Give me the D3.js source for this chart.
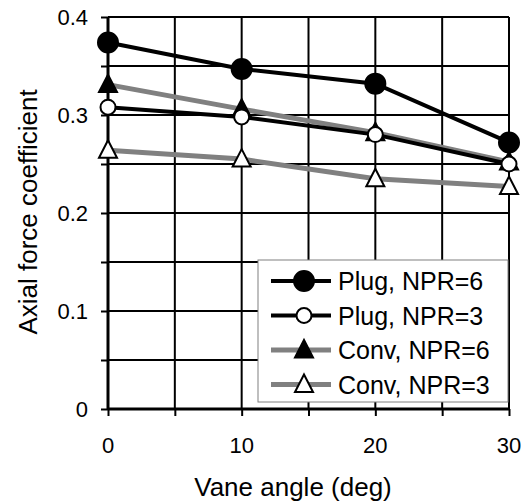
<!DOCTYPE html>
<html>
<head>
<meta charset="utf-8">
<script src="https://d3js.org/d3.v7.min.js"></script>
<style>
  body { margin: 0; background: #fff; }
  text { font-family: "Liberation Sans", Arial, sans-serif; fill: #000; }
</style>
</head>
<body>
<div id="svg"></div>
<script>
// data
var angles = [0, 10, 20, 30];
var plugNpr6 = [0.374, 0.347, 0.332, 0.272];
var plugNpr3 = [0.308, 0.298, 0.280, 0.250];
var convNpr6 = [0.331, 0.306, 0.282, 0.252];
var convNpr3 = [0.264, 0.255, 0.235, 0.227];
var seriesNames = ["Plug, NPR=6", "Plug, NPR=3", "Conv, NPR=6", "Conv, NPR=3"];
var xTicks = [0, 10, 20, 30];
var yTicks = [0, 0.1, 0.2, 0.3, 0.4];

var series = [
  { name: seriesNames[0], values: plugNpr6, line: "#000", lw: 4, shape: "circle", fill: "#000", r: 10 },
  { name: seriesNames[1], values: plugNpr3, line: "#000", lw: 4, shape: "circle", fill: "#fff", r: 7.5 },
  { name: seriesNames[2], values: convNpr6, line: "#808080", lw: 5, shape: "triangle", fill: "#000", r: 10 },
  { name: seriesNames[3], values: convNpr3, line: "#808080", lw: 5, shape: "triangle", fill: "#fff", r: 10 }
];

var tickFs = "22px", labelFs = "26px", legendFs = "25px";

var edge = { top: 17, right: 22, bottom: 93, left: 108 },
    width = 531 - edge.left - edge.right,
    height = 502 - edge.top - edge.bottom;

var svg = d3.select("#svg").append("svg")
    .attr("width", 531).attr("height", 502)
  .append("g")
    .attr("transform", "translate(" + edge.left + "," + edge.top + ")");

var x = d3.scaleLinear().domain([0, 30]).range([0, width]);
var y = d3.scaleLinear().domain([0, 0.4]).range([height, 0]);

// grid every 5 deg and every 0.05
svg.append("g").selectAll("line").data(d3.range(5, 31, 5))
  .enter().append("line")
  .attr("x1", d => x(d)).attr("x2", d => x(d))
  .attr("y1", 0).attr("y2", height)
  .attr("stroke", "#000").attr("stroke-width", 2);
svg.append("g").selectAll("line").data(d3.range(1, 9).map(d => d * 0.05))
  .enter().append("line")
  .attr("x1", 0).attr("x2", width)
  .attr("y1", d => y(d)).attr("y2", d => y(d))
  .attr("stroke", "#000").attr("stroke-width", 2);

// axes
var xAxis = svg.append("g")
  .attr("transform", "translate(0," + height + ")")
  .call(d3.axisBottom(x).tickValues(d3.range(0, 31, 5)).tickSize(7).tickFormat(""));
var yAxis = svg.append("g")
  .call(d3.axisLeft(y).tickValues(d3.range(0, 9).map(d => d * 0.05)).tickSize(7).tickFormat(""));
[xAxis, yAxis].forEach(function(a) {
  a.select(".domain").attr("stroke", "#000").attr("stroke-width", 3);
  a.selectAll(".tick line").attr("stroke", "#000").attr("stroke-width", 2);
});
yAxis.select(".domain").attr("d", "M0," + height + "V0");
xAxis.select(".domain").attr("d", "M0,0H" + width);

svg.append("g").selectAll("text").data(xTicks)
  .enter().append("text")
  .attr("x", d => x(d)).attr("y", 453 - edge.top)
  .attr("text-anchor", "middle").style("font-size", tickFs)
  .text(d => d);
svg.append("g").selectAll("text").data(yTicks)
  .enter().append("text")
  .attr("x", -20).attr("y", d => y(d) + 8)
  .attr("text-anchor", "end").style("font-size", tickFs)
  .text(d => d === 0 ? "0" : d3.format(".1f")(d));

svg.append("text")
  .attr("x", 293 - edge.left).attr("y", 496 - edge.top)
  .attr("text-anchor", "middle").style("font-size", labelFs)
  .text("Vane angle (deg)");
svg.append("text")
  .attr("transform", "translate(" + (37 - edge.left) + "," + (212 - edge.top) + ") rotate(-90)")
  .attr("text-anchor", "middle").style("font-size", labelFs)
  .text("Axial force coefficient");

var line = d3.line().x((d, i) => x(angles[i])).y(d => y(d));

function marker(g, s, cx, cy) {
  if (s.shape === "circle") {
    g.append("circle").attr("cx", cx).attr("cy", cy).attr("r", s.r)
      .attr("fill", s.fill).attr("stroke", "#000").attr("stroke-width", 2);
  } else {
    var r = s.r;
    g.append("path")
      .attr("d", "M" + cx + "," + (cy - r) + "L" + (cx + r * 0.9) + "," + (cy + r * 0.75) + "L" + (cx - r * 0.9) + "," + (cy + r * 0.75) + "Z")
      .attr("fill", s.fill).attr("stroke", "#000").attr("stroke-width", 2);
  }
}

series.slice().reverse().forEach(function(s) {
  svg.append("path").datum(s.values)
    .attr("d", line).attr("fill", "none")
    .attr("stroke", s.line).attr("stroke-width", s.lw);
});
series.slice().reverse().forEach(function(s) {
  var g = svg.append("g");
  s.values.forEach(function(v, i) { marker(g, s, x(angles[i]), y(v)); });
});

// legend
var lg = svg.append("g").attr("transform", "translate(" + (258 - edge.left) + "," + (260 - edge.top) + ")");
lg.append("rect").attr("width", 250).attr("height", 142)
  .attr("fill", "#fff").attr("stroke", "#808080").attr("stroke-width", 1);
series.forEach(function(s, i) {
  var cy = 21 + i * 34.5;
  lg.append("line").attr("x1", 13).attr("x2", 73).attr("y1", cy).attr("y2", cy)
    .attr("stroke", s.line).attr("stroke-width", s.lw);
  marker(lg, s, 46, cy);
  lg.append("text").attr("x", 80).attr("y", cy + 9)
    .style("font-size", legendFs).text(s.name);
});
</script>
</body>
</html>
